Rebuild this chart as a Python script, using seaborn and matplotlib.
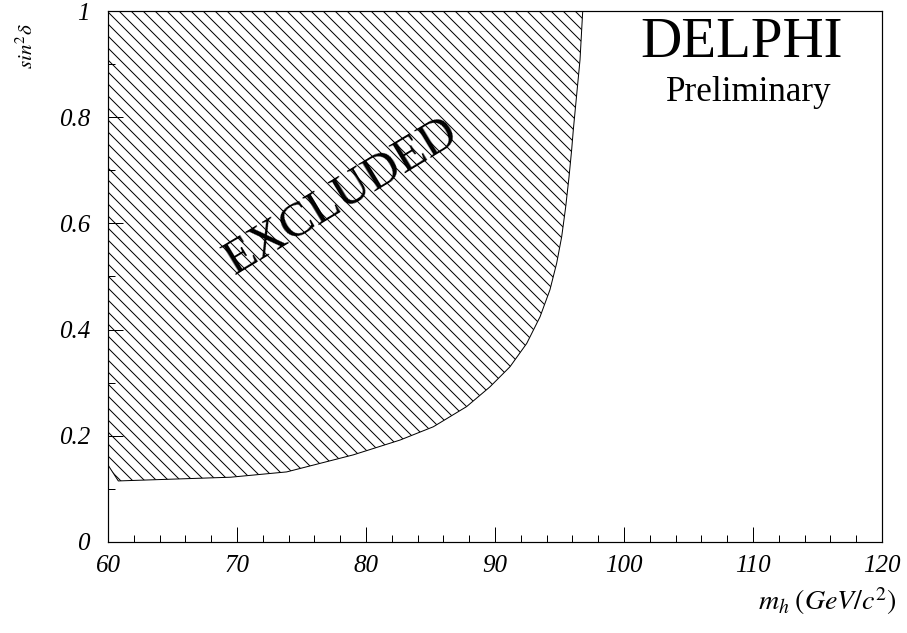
import numpy as np
import pandas as pd
import matplotlib
matplotlib.use("Agg")
import matplotlib.pyplot as plt
import seaborn as sns
from matplotlib.ticker import MultipleLocator

# Exclusion boundary (m_h in GeV/c^2, sin^2 delta)
mass = [60.0, 60.8, 69.5, 73.85, 79.0, 82.64, 85.22, 87.8, 89.6, 91.16, 92.46,
        93.49, 94.26, 94.78, 95.17, 95.48, 95.74, 95.94, 96.07, 96.59, 96.8]
sin2delta = [0.145, 0.115, 0.122, 0.132, 0.164, 0.192, 0.217, 0.255, 0.292, 0.330, 0.374,
             0.424, 0.475, 0.525, 0.575, 0.631, 0.688, 0.738, 0.776, 0.908, 1.0]
x_ticks = [60, 70, 80, 90, 100, 110, 120]
y_ticks = [0, 0.2, 0.4, 0.6, 0.8, 1]
y_tick_labels = ["0", "0.2", "0.4", "0.6", "0.8", "1"]

sns.set_theme(style="white")
plt.rcParams["font.family"] = ["Liberation Serif", "DejaVu Serif"]
plt.rcParams["mathtext.fontset"] = "stix"
plt.rcParams["hatch.linewidth"] = 1.0
for k in ["text.color", "axes.labelcolor", "xtick.color", "ytick.color"]:
    plt.rcParams[k] = "black"

df = pd.DataFrame({"mass": mass, "sin2delta": sin2delta})

DPI = 72  # 1 pt == 1 px
fig = plt.figure(figsize=(907 / DPI, 633 / DPI), dpi=DPI)
ax = fig.add_axes([108 / 907, 1 - 542 / 633, 774 / 907, 531 / 633])

ax.fill_between(df["mass"], df["sin2delta"], 1.0, facecolor="none",
                edgecolor="black", hatch=chr(92) * 2, linewidth=0)
sns.lineplot(data=df, x="mass", y="sin2delta", sort=False, color="black",
             linewidth=1.0, ax=ax, estimator=None)

ax.set_xlim(60, 120)
ax.set_ylim(0, 1)
ax.set_xticks(x_ticks)
ax.set_xticklabels([str(t) for t in x_ticks])
ax.set_yticks(y_ticks)
ax.set_yticklabels(y_tick_labels)
ax.xaxis.set_minor_locator(MultipleLocator(2))
ax.yaxis.set_minor_locator(MultipleLocator(0.1))
ax.tick_params(which="both", direction="in", bottom=True, left=True,
               top=False, right=False, color="black", width=1.0)
ax.tick_params(which="major", length=15, labelsize=25)
ax.tick_params(which="minor", length=7)
ax.tick_params(axis="x", which="major", pad=13)
ax.tick_params(axis="y", which="major", pad=18)
for lab in ax.get_xticklabels() + ax.get_yticklabels():
    lab.set_fontstyle("italic")
for s in ax.spines.values():
    s.set_color("black")
    s.set_linewidth(1.2)
ax.set_xlabel("")
ax.set_ylabel("")

fig.text(27 / 907, 1 - 46 / 633, r"$\mathit{sin}^{2}\delta$", rotation=90,
         ha="center", va="center", fontsize=21)
fig.text(897 / 907, 1 - 610 / 633, r"$m_h\;(GeV/c^{2})$",
         ha="right", va="baseline", fontsize=28)

fig.text(742 / 907, 1 - 57 / 633, "DELPHI", ha="center", va="baseline", fontsize=57)
fig.text(749 / 907, 1 - 101 / 633, "Preliminary", ha="center", va="baseline", fontsize=35)
fig.text(341 / 907, 1 - 197 / 633, "EXCLUDED", ha="center", va="center",
         rotation=31, rotation_mode="anchor", fontsize=49)

fig.savefig("out.png", dpi=DPI)
